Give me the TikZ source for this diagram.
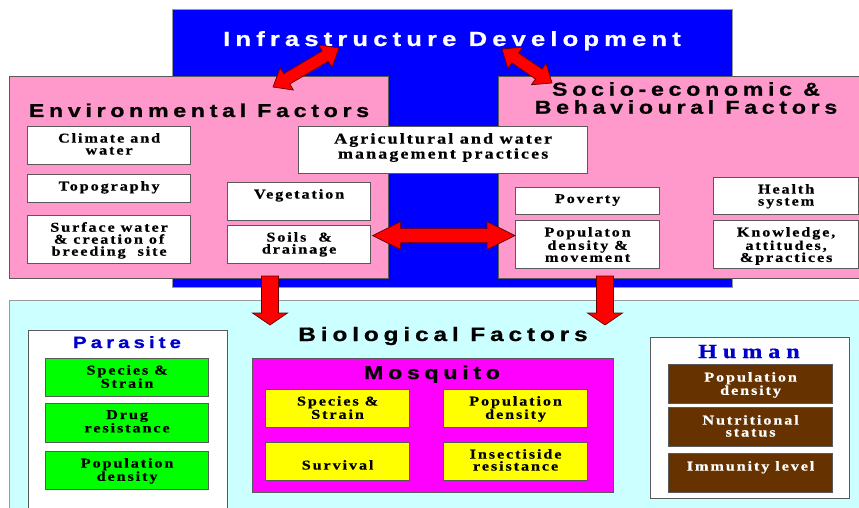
\documentclass[tikz,border=0pt]{standalone}
\usepackage{fontspec}
\setmainfont{Liberation Serif}
\newfontfamily\headfont{Liberation Sans}[FakeStretch=1.25, LetterSpace=25, FakeBold=0.8]
\newfontfamily\boxfont{Liberation Serif}[FakeStretch=1.2, LetterSpace=14, FakeBold=0.6]
\newfontfamily\humfont{Liberation Serif}[FakeStretch=1.2, LetterSpace=30, FakeBold=0.8]
\usetikzlibrary{calc}

\definecolor{infrablue}{HTML}{0000FF}
\definecolor{pinkbg}{HTML}{FF99CC}
\definecolor{biobg}{HTML}{CCFFFF}
\definecolor{parabox}{HTML}{00FF00}
\definecolor{mosqbg}{HTML}{FF00FF}
\definecolor{mosqbox}{HTML}{FFFF00}
\definecolor{humbox}{HTML}{663300}
\definecolor{labelblue}{HTML}{0000CC}

\tikzstyle{panel}=[anchor=north west, inner sep=0pt, draw=black!65, line width=1.2pt]
\tikzstyle{wbox}=[panel, fill=white]
\tikzstyle{btext}=[anchor=north, inner sep=0pt, align=center, font=\boxfont\bfseries\fontsize{13.5}{12}\selectfont]
\tikzstyle{htitle}=[anchor=base, inner sep=0pt, font=\headfont\bfseries\fontsize{18.6}{18}\selectfont]
\tikzstyle{blockarrow}=[fill=red, draw=red!40!black, line width=0.7pt, line join=miter]

% double headed block arrow: start, end, head length, half shaft, half head
\newcommand{\dblarrow}[5]{%
  \coordinate (tmpA) at ($(#1)!#3!(#2)$);
  \coordinate (tmpB) at ($(#2)!#3!(#1)$);
  \draw[blockarrow] (#1) -- ($(tmpA)!#5!90:(#2)$) -- ($(tmpA)!#4!90:(#2)$)
    -- ($(tmpB)!#4!90:(#2)$) -- ($(tmpB)!#5!90:(#2)$) -- (#2)
    -- ($(tmpB)!#5!-90:(#2)$) -- ($(tmpB)!#4!-90:(#2)$)
    -- ($(tmpA)!#4!-90:(#2)$) -- ($(tmpA)!#5!-90:(#2)$) -- cycle;
}
% single headed block arrow
\newcommand{\sglarrow}[5]{%
  \coordinate (tmpB) at ($(#2)!#3!(#1)$);
  \draw[blockarrow] ($(#1)!#4!90:(#2)$) -- ($(tmpB)!#4!90:(#2)$)
    -- ($(tmpB)!#5!90:(#2)$) -- (#2) -- ($(tmpB)!#5!-90:(#2)$)
    -- ($(tmpB)!#4!-90:(#2)$) -- ($(#1)!#4!-90:(#2)$) -- cycle;
}

\begin{document}
\begin{tikzpicture}[x=1pt, y=-1pt]

    \clip (0,0) rectangle (859,508);

    % top: infrastructure
    \node[panel, fill=infrablue, draw=black!40, line width=0.8pt, minimum width=560, minimum height=278] (infra) at (172,9) {};
    \node[htitle, white, font=\headfont\bfseries\fontsize{20.5}{22}\selectfont] (infrat) at (452,46) {Infrastructure Development};

    % environmental / socio-economic panels
    \node[panel, fill=pinkbg, minimum width=379, minimum height=202] (env) at (9,76) {};
    \node[panel, fill=pinkbg, minimum width=370, minimum height=202] (soc) at (498,76) {};
    \node[htitle] (envt) at (199,117) {Environmental Factors};
    \node[htitle, anchor=north, align=center] (soct) at (686,82) {Socio-economic \&\\Behavioural Factors};

    \foreach \x/\y/\w/\h/\name/\txt in {27/126/163/38/clim/{Climate and\\water},
        27/174/163/28/topo/{Topography},
        27/215/163/48/surf/{Surface water\\\& creation of\\breeding\ \ site},
        227/182/143/38/veg/{Vegetation},
        227/225/143/38/soil/{Soils \ \&\\drainage},
        515/187/144/27/pov/{Poverty},
        515/220/144/48/popm/{Populaton\\density \&\\movement},
        713/177/145/37/hlth/{Health\\system},
        713/220/145/48/know/{Knowledge,\\attitudes,\\\&practices}}
    {
        \node[wbox, minimum width=\w, minimum height=\h] (\name) at (\x,\y) {};
        \node[btext] (\name-t) at ([yshift=-7pt]\name.north) {\txt};
    }

    \node[wbox, minimum width=289, minimum height=47] (agri) at (298,126) {};
    \node[btext, font=\boxfont\bfseries\fontsize{15}{15}\selectfont] (agri-t) at ([yshift=-7pt]agri.north) {Agricultural and water\\management practices};

    % biological factors
    \node[panel, fill=biobg, draw=black!40, line width=0.8pt, minimum width=860, minimum height=220] (bio) at (9,300) {};
    \node[htitle, font=\headfont\bfseries\fontsize{19.5}{20}\selectfont] (biot) at (443,341) {Biological Factors};

    % parasite
    \node[wbox, minimum width=199, minimum height=190] (para) at (28,330) {};
    \node[htitle, labelblue, font=\headfont\bfseries\fontsize{16.3}{17}\selectfont] (parat) at (127,348) {Parasite};
    \foreach \y/\h/\name/\txt in {358/38/pa1/{Species \&\\Strain},
        403/39/pa2/{Drug\\resistance},
        451/38/pa3/{Population\\density}}
    {
        \node[panel, fill=parabox, minimum width=163, minimum height=\h] (\name) at (45,\y) {};
        \node[btext] (\name-t) at ([yshift=-7pt]\name.north) {\txt};
    }

    % mosquito
    \node[panel, fill=mosqbg, minimum width=361, minimum height=134] (mosq) at (252,358) {};
    \node[htitle] (mosqt) at (432,379) {Mosquito};
    \foreach \x/\y/\name/\dy/\txt in {265/389/mo1/7/{Species \&\\Strain},
        265/442/mo2/18/{Survival},
        443/389/mo3/7/{Population\\density},
        443/442/mo4/7/{Insectiside\\resistance}}
    {
        \node[panel, fill=mosqbox, minimum width=144, minimum height=38] (\name) at (\x,\y) {};
        \node[btext] (\name-t) at ([yshift=-\dy pt]\name.north) {\txt};
    }

    % human
    \node[wbox, minimum width=199, minimum height=161] (hum) at (650,337) {};
    \node[anchor=base, inner sep=0pt, labelblue, font=\humfont\bfseries\fontsize{20}{20}\selectfont] (humt) at (749,358) {Human};
    \foreach \y/\name/\txt in {364/hu1/{Population\\density},
        407/hu2/{Nutritional\\status},
        453/hu3/{Immunity level}}
    {
        \node[panel, fill=humbox, minimum width=164, minimum height=39] (\name) at (668,\y) {};
        \node[btext, white] (\name-t) at ([yshift=-8pt]\name.north) {\txt};
    }

    % arrows
    \coordinate (ea) at (273,87);
    \coordinate (eb) at (339,48);
    \coordinate (sa) at (502,49);
    \coordinate (sb) at (552,83);
    \coordinate (ha) at ([xshift=1.5pt, yshift=9pt]soil.east);
    \coordinate (hb) at ([yshift=9pt]popm.west);
    \coordinate (d1) at (270,276);
    \coordinate (d1b) at (270,325);
    \coordinate (d2) at (605,276);
    \coordinate (d2b) at (605,325);

    \dblarrow{ea}{eb}{16pt}{6pt}{13pt}
    \dblarrow{sa}{sb}{16pt}{6pt}{13pt}
    \dblarrow{ha}{hb}{28pt}{7pt}{14pt}
    \sglarrow{d1}{d1b}{12pt}{8.5pt}{17.5pt}
    \sglarrow{d2}{d2b}{12pt}{8.5pt}{17.5pt}

\end{tikzpicture}
\end{document}
